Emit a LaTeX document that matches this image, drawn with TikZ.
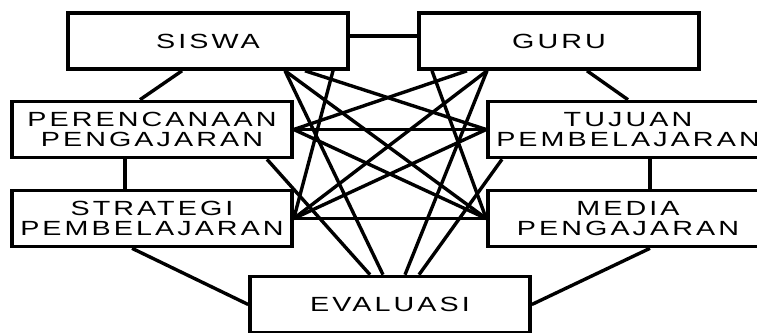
\documentclass[tikz,border=0pt]{standalone}
\usepackage{fontspec}
\newfontfamily\boxfont{Liberation Sans}[FakeStretch=1.4, LetterSpace=15]
\usetikzlibrary{positioning}

\begin{document}
\begin{tikzpicture}
[
  x=1pt, y=-1pt,
  box/.style={rectangle, draw, line width=3.6pt, minimum width=280pt, minimum height=56pt,
    inner sep=0pt, align=center, font=\boxfont\fontsize{20.5}{20}\selectfont},
  node distance=89pt,
  on grid,
  line width=3.4pt
]
 \useasboundingbox (0,0) rectangle (757,332);
 \clip (0,0) rectangle (757,332);

 \node[box] (siswa) at (208,41) {SISWA};
 \node[box] (guru) [right=351pt of siswa] {GURU};
 \node[box] (perencanaan) at (152,129.5) {PERENCANAAN\\PENGAJARAN};
 \node[box] (tujuan) [right=476pt of perencanaan] {TUJUAN\\PEMBELAJARAN};
 \node[box] (strategi) [below=of perencanaan] {STRATEGI\\PEMBELAJARAN};
 \node[box] (media) [right=476pt of strategi] {MEDIA\\PENGAJARAN};
 \node[box] (evaluasi) at (390,304.5) {EVALUASI};

 % outer ring
 \path
   ([yshift=5pt]siswa.east) edge ([yshift=5pt]guru.west)
   ([xshift=-26pt]siswa.south) edge ([xshift=-12pt]perencanaan.north)
   ([xshift=28pt]guru.south) edge (tujuan.north)
   ([xshift=-27pt]perencanaan.south) edge ([xshift=-27pt]strategi.north)
   ([xshift=22pt]tujuan.south) edge ([xshift=22pt]media.north)
   ([xshift=-20pt]strategi.south) edge (evaluasi.west)
   ([xshift=22pt]media.south) edge (evaluasi.east);

 % cross links
 \path
   ([xshift=77pt]siswa.south) edge ([xshift=-7pt]evaluasi.north)
   ([xshift=77pt]siswa.south) edge (media.west)
   ([xshift=97pt]siswa.south) edge (tujuan.west)
   ([xshift=125pt]siswa.south) edge (strategi.east)
   ([xshift=-127pt]guru.south) edge (media.west)
   ([xshift=-92pt]guru.south) edge (perencanaan.east)
   ([xshift=-72pt]guru.south) edge (strategi.east)
   ([xshift=-72pt]guru.south) edge ([xshift=15pt]evaluasi.north)
   (perencanaan.east) edge (tujuan.west)
   (perencanaan.east) edge (media.west)
   ([xshift=115pt]perencanaan.south) edge ([xshift=-20pt]evaluasi.north)
   (tujuan.west) edge (strategi.east)
   ([xshift=-126pt]tujuan.south) edge ([xshift=29pt]evaluasi.north)
   (strategi.east) edge (media.west);
\end{tikzpicture}
\end{document}
